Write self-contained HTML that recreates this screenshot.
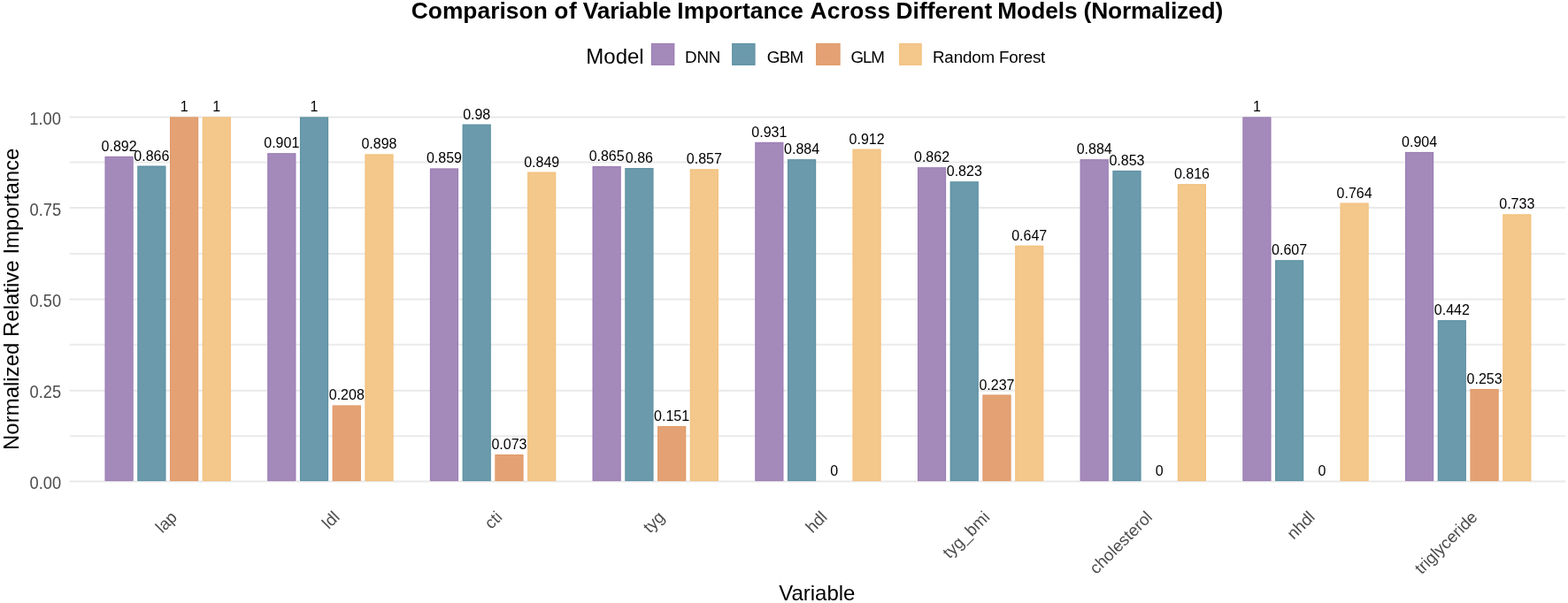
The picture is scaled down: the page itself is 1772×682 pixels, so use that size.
<!DOCTYPE html><html><head><meta charset="utf-8"><title>Comparison of Variable Importance</title><style>
html,body{margin:0;padding:0;background:#fff;}body{width:1772px;height:682px;overflow:hidden;}
svg{display:block;}text{font-family:"Liberation Sans",Arial,sans-serif;}
</style></head><body>
<svg width="1772" height="682" viewBox="0 0 1772 682">
<rect x="0" y="0" width="1772" height="682" fill="#fff"/>
<line x1="78.7" x2="1769.4" y1="493.30" y2="493.30" stroke="#EBEBEB" stroke-width="2.0"/>
<line x1="78.7" x2="1769.4" y1="389.80" y2="389.80" stroke="#EBEBEB" stroke-width="2.0"/>
<line x1="78.7" x2="1769.4" y1="287.10" y2="287.10" stroke="#EBEBEB" stroke-width="2.0"/>
<line x1="78.7" x2="1769.4" y1="183.60" y2="183.60" stroke="#EBEBEB" stroke-width="2.0"/>
<line x1="78.7" x2="1769.4" y1="544.40" y2="544.40" stroke="#E9E9E9" stroke-width="2.0"/>
<line x1="78.7" x2="1769.4" y1="441.80" y2="441.80" stroke="#E9E9E9" stroke-width="2.0"/>
<line x1="78.7" x2="1769.4" y1="338.40" y2="338.40" stroke="#E9E9E9" stroke-width="2.0"/>
<line x1="78.7" x2="1769.4" y1="235.00" y2="235.00" stroke="#E9E9E9" stroke-width="2.0"/>
<line x1="78.7" x2="1769.4" y1="132.60" y2="132.60" stroke="#E9E9E9" stroke-width="2.0"/>
<rect x="118.53" y="176.86" width="32.14" height="367.24" fill="#A489BB"/>
<rect x="119.03" y="177.36" width="31.14" height="366.24" fill="none" stroke="#8C6AA9" stroke-opacity="0.35" stroke-width="1"/>
<rect x="155.27" y="187.57" width="32.14" height="356.53" fill="#6A9AAB"/>
<rect x="155.77" y="188.07" width="31.14" height="355.53" fill="none" stroke="#458196" stroke-opacity="0.35" stroke-width="1"/>
<rect x="192.01" y="132.40" width="32.14" height="411.70" fill="#E4A274"/>
<rect x="192.51" y="132.90" width="31.14" height="410.70" fill="none" stroke="#DC8A50" stroke-opacity="0.35" stroke-width="1"/>
<rect x="228.74" y="132.40" width="32.14" height="411.70" fill="#F4C78A"/>
<rect x="229.24" y="132.90" width="31.14" height="410.70" fill="none" stroke="#F0B86A" stroke-opacity="0.35" stroke-width="1"/>
<rect x="302.22" y="173.16" width="32.14" height="370.94" fill="#A489BB"/>
<rect x="302.72" y="173.66" width="31.14" height="369.94" fill="none" stroke="#8C6AA9" stroke-opacity="0.35" stroke-width="1"/>
<rect x="338.95" y="132.40" width="32.14" height="411.70" fill="#6A9AAB"/>
<rect x="339.45" y="132.90" width="31.14" height="410.70" fill="none" stroke="#458196" stroke-opacity="0.35" stroke-width="1"/>
<rect x="375.69" y="458.47" width="32.14" height="85.63" fill="#E4A274"/>
<rect x="376.19" y="458.97" width="31.14" height="84.63" fill="none" stroke="#DC8A50" stroke-opacity="0.35" stroke-width="1"/>
<rect x="412.43" y="174.39" width="32.14" height="369.71" fill="#F4C78A"/>
<rect x="412.93" y="174.89" width="31.14" height="368.71" fill="none" stroke="#F0B86A" stroke-opacity="0.35" stroke-width="1"/>
<rect x="485.90" y="190.45" width="32.14" height="353.65" fill="#A489BB"/>
<rect x="486.40" y="190.95" width="31.14" height="352.65" fill="none" stroke="#8C6AA9" stroke-opacity="0.35" stroke-width="1"/>
<rect x="522.64" y="140.63" width="32.14" height="403.47" fill="#6A9AAB"/>
<rect x="523.14" y="141.13" width="31.14" height="402.47" fill="none" stroke="#458196" stroke-opacity="0.35" stroke-width="1"/>
<rect x="559.38" y="514.05" width="32.14" height="30.05" fill="#E4A274"/>
<rect x="559.88" y="514.55" width="31.14" height="29.05" fill="none" stroke="#DC8A50" stroke-opacity="0.35" stroke-width="1"/>
<rect x="596.11" y="194.57" width="32.14" height="349.53" fill="#F4C78A"/>
<rect x="596.61" y="195.07" width="31.14" height="348.53" fill="none" stroke="#F0B86A" stroke-opacity="0.35" stroke-width="1"/>
<rect x="669.59" y="187.98" width="32.14" height="356.12" fill="#A489BB"/>
<rect x="670.09" y="188.48" width="31.14" height="355.12" fill="none" stroke="#8C6AA9" stroke-opacity="0.35" stroke-width="1"/>
<rect x="706.32" y="190.04" width="32.14" height="354.06" fill="#6A9AAB"/>
<rect x="706.82" y="190.54" width="31.14" height="353.06" fill="none" stroke="#458196" stroke-opacity="0.35" stroke-width="1"/>
<rect x="743.06" y="481.93" width="32.14" height="62.17" fill="#E4A274"/>
<rect x="743.56" y="482.43" width="31.14" height="61.17" fill="none" stroke="#DC8A50" stroke-opacity="0.35" stroke-width="1"/>
<rect x="779.80" y="191.27" width="32.14" height="352.83" fill="#F4C78A"/>
<rect x="780.30" y="191.77" width="31.14" height="351.83" fill="none" stroke="#F0B86A" stroke-opacity="0.35" stroke-width="1"/>
<rect x="853.27" y="160.81" width="32.14" height="383.29" fill="#A489BB"/>
<rect x="853.77" y="161.31" width="31.14" height="382.29" fill="none" stroke="#8C6AA9" stroke-opacity="0.35" stroke-width="1"/>
<rect x="890.01" y="180.16" width="32.14" height="363.94" fill="#6A9AAB"/>
<rect x="890.51" y="180.66" width="31.14" height="362.94" fill="none" stroke="#458196" stroke-opacity="0.35" stroke-width="1"/>
<rect x="963.48" y="168.63" width="32.14" height="375.47" fill="#F4C78A"/>
<rect x="963.98" y="169.13" width="31.14" height="374.47" fill="none" stroke="#F0B86A" stroke-opacity="0.35" stroke-width="1"/>
<rect x="1036.96" y="189.21" width="32.14" height="354.89" fill="#A489BB"/>
<rect x="1037.46" y="189.71" width="31.14" height="353.89" fill="none" stroke="#8C6AA9" stroke-opacity="0.35" stroke-width="1"/>
<rect x="1073.69" y="205.27" width="32.14" height="338.83" fill="#6A9AAB"/>
<rect x="1074.19" y="205.77" width="31.14" height="337.83" fill="none" stroke="#458196" stroke-opacity="0.35" stroke-width="1"/>
<rect x="1110.43" y="446.53" width="32.14" height="97.57" fill="#E4A274"/>
<rect x="1110.93" y="447.03" width="31.14" height="96.57" fill="none" stroke="#DC8A50" stroke-opacity="0.35" stroke-width="1"/>
<rect x="1147.17" y="277.73" width="32.14" height="266.37" fill="#F4C78A"/>
<rect x="1147.67" y="278.23" width="31.14" height="265.37" fill="none" stroke="#F0B86A" stroke-opacity="0.35" stroke-width="1"/>
<rect x="1220.64" y="180.16" width="32.14" height="363.94" fill="#A489BB"/>
<rect x="1221.14" y="180.66" width="31.14" height="362.94" fill="none" stroke="#8C6AA9" stroke-opacity="0.35" stroke-width="1"/>
<rect x="1257.38" y="192.92" width="32.14" height="351.18" fill="#6A9AAB"/>
<rect x="1257.88" y="193.42" width="31.14" height="350.18" fill="none" stroke="#458196" stroke-opacity="0.35" stroke-width="1"/>
<rect x="1330.85" y="208.15" width="32.14" height="335.95" fill="#F4C78A"/>
<rect x="1331.35" y="208.65" width="31.14" height="334.95" fill="none" stroke="#F0B86A" stroke-opacity="0.35" stroke-width="1"/>
<rect x="1404.33" y="132.40" width="32.14" height="411.70" fill="#A489BB"/>
<rect x="1404.83" y="132.90" width="31.14" height="410.70" fill="none" stroke="#8C6AA9" stroke-opacity="0.35" stroke-width="1"/>
<rect x="1441.06" y="294.20" width="32.14" height="249.90" fill="#6A9AAB"/>
<rect x="1441.56" y="294.70" width="31.14" height="248.90" fill="none" stroke="#458196" stroke-opacity="0.35" stroke-width="1"/>
<rect x="1514.54" y="229.56" width="32.14" height="314.54" fill="#F4C78A"/>
<rect x="1515.04" y="230.06" width="31.14" height="313.54" fill="none" stroke="#F0B86A" stroke-opacity="0.35" stroke-width="1"/>
<rect x="1588.01" y="171.92" width="32.14" height="372.18" fill="#A489BB"/>
<rect x="1588.51" y="172.42" width="31.14" height="371.18" fill="none" stroke="#8C6AA9" stroke-opacity="0.35" stroke-width="1"/>
<rect x="1624.75" y="362.13" width="32.14" height="181.97" fill="#6A9AAB"/>
<rect x="1625.25" y="362.63" width="31.14" height="180.97" fill="none" stroke="#458196" stroke-opacity="0.35" stroke-width="1"/>
<rect x="1661.49" y="439.94" width="32.14" height="104.16" fill="#E4A274"/>
<rect x="1661.99" y="440.44" width="31.14" height="103.16" fill="none" stroke="#DC8A50" stroke-opacity="0.35" stroke-width="1"/>
<rect x="1698.22" y="242.32" width="32.14" height="301.78" fill="#F4C78A"/>
<rect x="1698.72" y="242.82" width="31.14" height="300.78" fill="none" stroke="#F0B86A" stroke-opacity="0.35" stroke-width="1"/>
<text x="134.61" y="170.86" font-size="16" text-anchor="middle" fill="#000">0.892</text>
<text x="171.34" y="181.57" font-size="16" text-anchor="middle" fill="#000">0.866</text>
<text x="208.08" y="126.40" font-size="16" text-anchor="middle" fill="#000">1</text>
<text x="244.82" y="126.40" font-size="16" text-anchor="middle" fill="#000">1</text>
<text x="318.29" y="167.16" font-size="16" text-anchor="middle" fill="#000">0.901</text>
<text x="355.03" y="126.40" font-size="16" text-anchor="middle" fill="#000">1</text>
<text x="391.76" y="452.47" font-size="16" text-anchor="middle" fill="#000">0.208</text>
<text x="428.50" y="168.39" font-size="16" text-anchor="middle" fill="#000">0.898</text>
<text x="501.98" y="184.45" font-size="16" text-anchor="middle" fill="#000">0.859</text>
<text x="538.71" y="134.63" font-size="16" text-anchor="middle" fill="#000">0.98</text>
<text x="575.45" y="508.05" font-size="16" text-anchor="middle" fill="#000">0.073</text>
<text x="612.19" y="188.57" font-size="16" text-anchor="middle" fill="#000">0.849</text>
<text x="685.66" y="181.98" font-size="16" text-anchor="middle" fill="#000">0.865</text>
<text x="722.40" y="184.04" font-size="16" text-anchor="middle" fill="#000">0.86</text>
<text x="759.13" y="475.93" font-size="16" text-anchor="middle" fill="#000">0.151</text>
<text x="795.87" y="185.27" font-size="16" text-anchor="middle" fill="#000">0.857</text>
<text x="869.34" y="154.81" font-size="16" text-anchor="middle" fill="#000">0.931</text>
<text x="906.08" y="174.16" font-size="16" text-anchor="middle" fill="#000">0.884</text>
<text x="942.82" y="538.10" font-size="16" text-anchor="middle" fill="#000">0</text>
<text x="979.56" y="162.63" font-size="16" text-anchor="middle" fill="#000">0.912</text>
<text x="1053.03" y="183.21" font-size="16" text-anchor="middle" fill="#000">0.862</text>
<text x="1089.77" y="199.27" font-size="16" text-anchor="middle" fill="#000">0.823</text>
<text x="1126.50" y="440.53" font-size="16" text-anchor="middle" fill="#000">0.237</text>
<text x="1163.24" y="271.73" font-size="16" text-anchor="middle" fill="#000">0.647</text>
<text x="1236.71" y="174.16" font-size="16" text-anchor="middle" fill="#000">0.884</text>
<text x="1273.45" y="186.92" font-size="16" text-anchor="middle" fill="#000">0.853</text>
<text x="1310.19" y="538.10" font-size="16" text-anchor="middle" fill="#000">0</text>
<text x="1346.93" y="202.15" font-size="16" text-anchor="middle" fill="#000">0.816</text>
<text x="1420.40" y="126.40" font-size="16" text-anchor="middle" fill="#000">1</text>
<text x="1457.14" y="288.20" font-size="16" text-anchor="middle" fill="#000">0.607</text>
<text x="1493.87" y="538.10" font-size="16" text-anchor="middle" fill="#000">0</text>
<text x="1530.61" y="223.56" font-size="16" text-anchor="middle" fill="#000">0.764</text>
<text x="1604.08" y="165.92" font-size="16" text-anchor="middle" fill="#000">0.904</text>
<text x="1640.82" y="356.13" font-size="16" text-anchor="middle" fill="#000">0.442</text>
<text x="1677.56" y="433.94" font-size="16" text-anchor="middle" fill="#000">0.253</text>
<text x="1714.29" y="236.32" font-size="16" text-anchor="middle" fill="#000">0.733</text>
<text x="33.53" y="552.90" font-size="19.8" fill="#4D4D4D" textLength="35.55" lengthAdjust="spacingAndGlyphs">0.00</text>
<text x="33.53" y="450.30" font-size="19.8" fill="#4D4D4D" textLength="35.60" lengthAdjust="spacingAndGlyphs">0.25</text>
<text x="33.53" y="346.90" font-size="19.8" fill="#4D4D4D" textLength="35.55" lengthAdjust="spacingAndGlyphs">0.50</text>
<text x="33.53" y="243.50" font-size="19.8" fill="#4D4D4D" textLength="35.60" lengthAdjust="spacingAndGlyphs">0.75</text>
<text x="33.29" y="141.10" font-size="19.8" fill="#4D4D4D" textLength="35.78" lengthAdjust="spacingAndGlyphs">1.00</text>
<text x="201.21" y="586.00" font-size="18.8" text-anchor="end" fill="#4D4D4D" transform="rotate(-45 201.21 586.00)">lap</text>
<text x="384.90" y="586.00" font-size="18.8" text-anchor="end" fill="#4D4D4D" transform="rotate(-45 384.90 586.00)">ldl</text>
<text x="568.58" y="586.00" font-size="18.8" text-anchor="end" fill="#4D4D4D" transform="rotate(-45 568.58 586.00)">cti</text>
<text x="752.27" y="586.00" font-size="18.8" text-anchor="end" fill="#4D4D4D" transform="rotate(-45 752.27 586.00)">tyg</text>
<text x="935.95" y="586.00" font-size="18.8" text-anchor="end" fill="#4D4D4D" transform="rotate(-45 935.95 586.00)">hdl</text>
<text x="1119.63" y="586.00" font-size="18.8" text-anchor="end" fill="#4D4D4D" transform="rotate(-45 1119.63 586.00)">tyg_bmi</text>
<text x="1303.32" y="586.00" font-size="18.8" text-anchor="end" fill="#4D4D4D" transform="rotate(-45 1303.32 586.00)">cholesterol</text>
<text x="1487.00" y="586.00" font-size="18.8" text-anchor="end" fill="#4D4D4D" transform="rotate(-45 1487.00 586.00)">nhdl</text>
<text x="1670.69" y="586.00" font-size="18.8" text-anchor="end" fill="#4D4D4D" transform="rotate(-45 1670.69 586.00)">triglyceride</text>
<text x="923.3" y="679.2" font-size="24" text-anchor="middle" fill="#000">Variable</text>
<text x="21.4" y="338.3" font-size="24" text-anchor="middle" fill="#000" transform="rotate(-90 21.4 338.3)">Normalized Relative Importance</text>
<text y="21" font-size="26.3" font-weight="bold" fill="#000">
<tspan x="464.72" textLength="154.01" lengthAdjust="spacing">Comparison</tspan> <tspan x="626.27" textLength="25.58" lengthAdjust="spacing">of</tspan> <tspan x="658.72" textLength="99.98" lengthAdjust="spacing">Variable</tspan> <tspan x="765.34" textLength="142.66" lengthAdjust="spacing">Importance</tspan> <tspan x="915.45" textLength="90.63" lengthAdjust="spacing">Across</tspan> <tspan x="1012.44" textLength="108.78" lengthAdjust="spacing">Different</tspan> <tspan x="1127.24" textLength="90.44" lengthAdjust="spacing">Models</tspan> <tspan x="1224.59" textLength="157.62" lengthAdjust="spacing">(Normalized)</tspan>
</text>
<text x="662.3" y="72.4" font-size="24" fill="#000">Model</text>
<rect x="735.9" y="48.9" width="26.40" height="25.00" fill="#A489BB"/>
<rect x="736.4" y="49.4" width="25.40" height="24.00" fill="none" stroke="#8C6AA9" stroke-opacity="0.35" stroke-width="1"/>
<text x="774.06" y="70.6" font-size="18.8" fill="#000" textLength="40.38" lengthAdjust="spacing">DNN</text>
<rect x="827.1" y="48.9" width="26.40" height="25.00" fill="#6A9AAB"/>
<rect x="827.6" y="49.4" width="25.40" height="24.00" fill="none" stroke="#458196" stroke-opacity="0.35" stroke-width="1"/>
<text x="866.85" y="70.6" font-size="18.8" fill="#000" textLength="41.19" lengthAdjust="spacing">GBM</text>
<rect x="922.1" y="48.9" width="27.50" height="25.00" fill="#E4A274"/>
<rect x="922.6" y="49.4" width="26.50" height="24.00" fill="none" stroke="#DC8A50" stroke-opacity="0.35" stroke-width="1"/>
<text x="961.55" y="70.6" font-size="18.8" fill="#000" textLength="38.39" lengthAdjust="spacing">GLM</text>
<rect x="1016.1" y="48.9" width="25.60" height="25.00" fill="#F4C78A"/>
<rect x="1016.6" y="49.4" width="24.60" height="24.00" fill="none" stroke="#F0B86A" stroke-opacity="0.35" stroke-width="1"/>
<text x="1053.96" y="70.6" font-size="18.8" fill="#000" textLength="127.38" lengthAdjust="spacing">Random Forest</text>
</svg></body></html>
